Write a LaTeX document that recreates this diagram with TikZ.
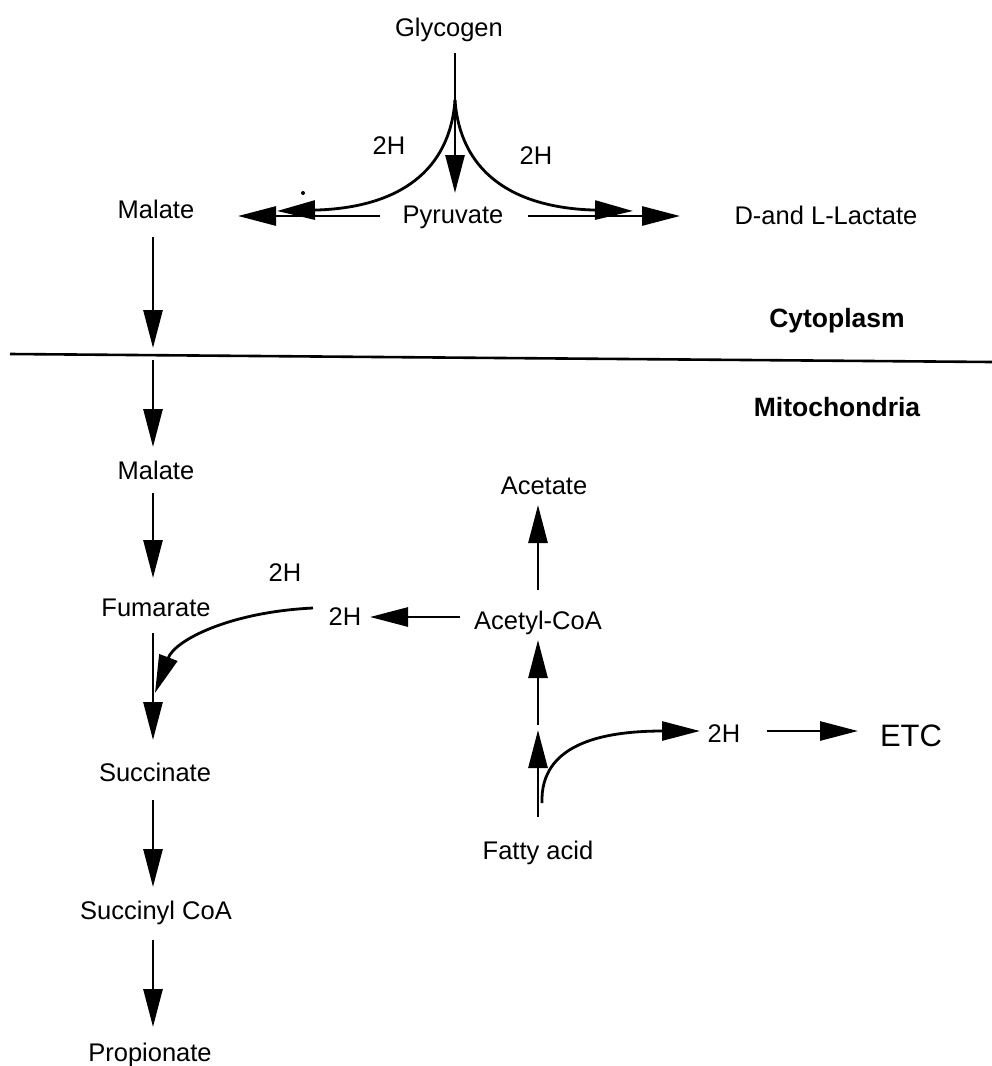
\documentclass[tikz,border=0pt]{standalone}
\usepackage{fontspec}
\setmainfont{Liberation Sans}
\usetikzlibrary{arrows.meta}
\begin{document}
\begin{tikzpicture}[x=1pt,y=-1pt,
  lbl/.style={font=\fontsize{25.5}{30}\selectfont, inner sep=0pt, text height=18pt, text depth=0pt},
  reg/.style={font=\fontsize{26.5}{31}\selectfont\bfseries, inner sep=0pt, text height=19pt, text depth=0pt},
  big/.style={font=\fontsize{31}{36}\selectfont, inner sep=0pt, text height=22pt, text depth=0pt},
  arr/.style={line width=2.8pt, -{Triangle[length=38pt,width=19pt]}},
  ln/.style={line width=2.6pt}]
\useasboundingbox (0,0) rectangle (992,1066);
\fill[white] (0,0) rectangle (992,1066);

% labels
\node[lbl] (glyc)  at (449,27)  {Glycogen};
\node[lbl] (pyr)   at (453,214) {Pyruvate};
\node[lbl] (malA)  at (156,209) {Malate};
\node[lbl] (lac)   at (826,215) {D-and L-Lactate};
\node[lbl] (h2a)   at (389,145) {2H};
\node[lbl] (h2b)   at (536,155) {2H};
\node[reg] (cyto)  at (837,318) {Cytoplasm};
\node[reg] (mito)  at (837,407) {Mitochondria};
\node[lbl] (malB)  at (156,470) {Malate};
\node[lbl] (fum)   at (156,607) {Fumarate};
\node[lbl] (h2c)   at (285,572) {2H};
\node[lbl] (h2d)   at (345,616) {2H};
\node[lbl] (acoa)  at (538,620) {Acetyl-CoA};
\node[lbl] (acet)  at (544,485) {Acetate};
\node[lbl] (fatty) at (538,850) {Fatty acid};
\node[lbl] (h2e)   at (724,733) {2H};
\node[big] (etc)   at (911,735) {ETC};
\node[lbl] (succ)  at (155,772) {Succinate};
\node[lbl] (sucoa) at (156,910) {Succinyl CoA};
\node[lbl] (prop)  at (150,1052) {Propionate};

% helper coordinates
\coordinate (gtop) at (455,53);
\coordinate (j) at (455,100);
\coordinate (pyrtop) at (455,193);
\coordinate (lcurve) at (277,211);
\coordinate (rcurve) at (633,211);
\coordinate (pl0) at (380,216);
\coordinate (pl1) at (238,216);
\coordinate (pr0) at (528,216);
\coordinate (pr1) at (680,216);
\coordinate (dl) at (10,354);
\coordinate (dr) at (992,362);
\coordinate (m1) at (153,237);
\coordinate (m2) at (153,348);
\coordinate (m3) at (153,360);
\coordinate (m4) at (153,447);
\coordinate (m5) at (153,493);
\coordinate (m6) at (153,578);
\coordinate (f1) at (153,633);
\coordinate (f2) at (153,740);
\coordinate (hc0) at (313,608);
\coordinate (hc1) at (155,693);
\coordinate (a0) at (460,617);
\coordinate (a1) at (370,617);
\coordinate (ac0) at (538,590);
\coordinate (ac1) at (538,505);
\coordinate (fa0) at (538,725);
\coordinate (fa1) at (538,640);
\coordinate (fb0) at (538,817);
\coordinate (fb1) at (538,730);
\coordinate (fc0) at (542,803);
\coordinate (fc1) at (700,731);
\coordinate (e0) at (767,731);
\coordinate (e1) at (858,731);
\coordinate (s1) at (153,800);
\coordinate (s2) at (153,887);
\coordinate (s3) at (153,940);
\coordinate (s4) at (153,1027);

% top part
\draw[arr] (gtop) -- (pyrtop);
\draw[arr] (j) .. controls (450,170) and (400,208) .. (lcurve);
\draw[arr] (j) .. controls (460,170) and (510,208) .. (rcurve);
\draw[arr] (pl0) -- (pl1);
\draw[arr] (pr0) -- (pr1);
\fill (303,193) circle (2pt);

% membrane
\draw[ln] (dl) -- (dr);

% left column
\draw[arr] (m1) -- (m2);
\draw[arr] (m3) -- (m4);
\draw[arr] (m5) -- (m6);
\draw[arr] (f1) -- (f2);
\draw[arr] (hc0) .. controls (230,612) and (175,640) .. (hc1);
\draw[arr] (s1) -- (s2);
\draw[arr] (s3) -- (s4);

% right column
\draw[arr] (a0) -- (a1);
\draw[arr] (ac0) -- (ac1);
\draw[arr] (fa0) -- (fa1);
\draw[arr] (fb0) -- (fb1);
\draw[arr] (fc0) .. controls (540,745) and (600,731) .. (fc1);
\draw[arr] (e0) -- (e1);
\end{tikzpicture}
\end{document}
